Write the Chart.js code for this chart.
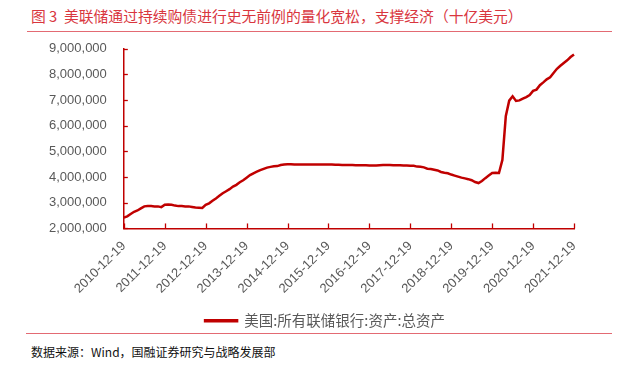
<!DOCTYPE html>
<html><head><meta charset="utf-8">
<script src="https://cdn.jsdelivr.net/npm/chart.js@4.4.0/dist/chart.umd.min.js"></script>
<style>
html,body{margin:0;padding:0;background:#fff;width:633px;height:367px;overflow:hidden;}
body{position:relative;font-family:"Noto Sans CJK SC",sans-serif;}
#title{position:absolute;left:31px;top:6px;font-size:14.8px;line-height:20px;color:#D9363E;white-space:nowrap;}
#tline{position:absolute;left:27px;top:31px;width:585px;height:0;border-top:1.5px solid #E36A73;}
#bline{position:absolute;left:26px;top:333px;width:586px;height:0;border-top:1.5px solid #E36A73;}
#src{position:absolute;left:31px;top:343px;font-size:12px;line-height:18px;color:#111;white-space:nowrap;}
#wrap{position:absolute;left:0;top:24px;width:633px;height:314px;}
</style></head>
<body>
<div id="title">图 3&nbsp; 美联储通过持续购债进行史无前例的量化宽松，支撑经济（十亿美元）</div>
<div id="tline"></div>
<div id="wrap"><canvas id="c" width="633" height="314"></canvas></div>
<div id="bline"></div>
<div id="src">数据来源：Wind，国融证券研究与战略发展部</div>
<script>
// Monthly observations (value on/near the 19th of each month), 2010-12 .. 2021-12
const seriesName = '美国:所有联储银行:资产:总资产';
const v2010 = [2420000];
const v2011 = [2470000,2560000,2650000,2700000,2780000,2860000,2870000,2870000,2860000,2860000,2830000,2920000];
const v2012 = [2930000,2920000,2890000,2870000,2870000,2860000,2860000,2840000,2820000,2810000,2800000,2920000];
const v2013 = [2980000,3080000,3170000,3270000,3370000,3450000,3530000,3630000,3700000,3800000,3880000,3980000];
const v2014 = [4080000,4150000,4210000,4270000,4320000,4370000,4400000,4420000,4430000,4470000,4490000,4500000];
const v2015 = [4500000,4490000,4490000,4490000,4490000,4490000,4490000,4490000,4490000,4490000,4490000,4490000];
const v2016 = [4490000,4480000,4480000,4470000,4470000,4470000,4470000,4460000,4460000,4460000,4460000,4450000];
const v2017 = [4450000,4450000,4460000,4470000,4470000,4470000,4460000,4460000,4460000,4450000,4450000,4440000];
const v2018 = [4440000,4410000,4400000,4380000,4330000,4320000,4290000,4260000,4200000,4170000,4150000,4100000];
const v2019 = [4060000,4020000,3980000,3950000,3920000,3880000,3810000,3770000,3850000,3960000,4060000,4160000];
const v2020 = [4170000,4160000,4670000,6370000,6980000,7150000,6970000,6990000,7060000,7120000,7200000,7360000];
const v2021 = [7410000,7580000,7690000,7810000,7890000,8060000,8220000,8340000,8450000,8550000,8680000,8780000];
const values = [].concat(v2010,v2011,v2012,v2013,v2014,v2015,v2016,v2017,v2018,v2019,v2020,v2021);
const tickLabels = ['2010-12-19','2011-12-19','2012-12-19','2013-12-19','2014-12-19','2015-12-19','2016-12-19','2017-12-19','2018-12-19','2019-12-19','2020-12-19','2021-12-19'];
const yTicks = [2000000,3000000,4000000,5000000,6000000,7000000,8000000,9000000];

// category labels: one per month starting 2010-12-19
const categories = [];
for (let i = 0; i < values.length; i++) {
  const m = 11 + i; const y = 2010 + Math.floor(m / 12); const mm = (m % 12) + 1;
  categories.push(y + '-' + String(mm).padStart(2, '0') + '-19');
}

const RED = '#C00000';
const innerTicks = {
  id: 'innerTicks',
  beforeDraw(chart) {
    // shift the legend box so it is centred under the plot like the reference
    const lg = chart.legend;
    if (lg && !lg._shifted) { lg.left += 22; lg.right += 22; lg._shifted = true; }
  },
  afterDraw(chart) {
    const ctx = chart.ctx, x = chart.scales.x, y = chart.scales.y, a = chart.chartArea;
    ctx.save(); ctx.strokeStyle = RED; ctx.lineWidth = 1.3;
    x.ticks.forEach(t => { const px = Math.round(x.getPixelForValue(t.value)) + 0.5;
      ctx.beginPath(); ctx.moveTo(px, a.bottom); ctx.lineTo(px, a.bottom - 5); ctx.stroke(); });
    y.ticks.forEach(t => { const py = Math.round(y.getPixelForValue(t.value)) + 0.5;
      ctx.beginPath(); ctx.moveTo(a.left, py); ctx.lineTo(a.left + 4, py); ctx.stroke(); });
    ctx.restore();
  }
};

new Chart(document.getElementById('c'), {
  type: 'line',
  data: { labels: categories, datasets: [{
    label: seriesName, data: values, borderColor: RED, backgroundColor: RED,
    borderWidth: 2.5, pointRadius: 0, tension: 0, fill: false }] },
  options: {
    responsive: false, animation: false, devicePixelRatio: 1,
    layout: { padding: { left: 32, right: 59, top: 8, bottom: 0 } },
    plugins: {
      tooltip: { enabled: false },
      legend: { position: 'bottom', labels: { boxWidth: 32, boxHeight: 1, color: '#595959',
        font: { size: 14.5, family: '"Noto Sans CJK SC", sans-serif' }, padding: 7 } }
    },
    scales: {
      x: {
        type: 'category',
        grid: { display: true, drawOnChartArea: false, drawTicks: false },
        border: { color: RED, width: 1.5 },
        afterBuildTicks: s => { s.ticks = s.ticks.filter(t => tickLabels.includes(categories[t.value])); },
        ticks: { autoSkip: false, maxRotation: 45, minRotation: 45, color: '#595959', padding: 10,
          font: { size: 13, family: '"Liberation Sans", Arial, sans-serif' } }
      },
      y: {
        min: 2000000, max: 9000000,
        afterBuildTicks: s => { s.ticks = yTicks.map(v => ({ value: v })); },
        grid: { display: true, drawOnChartArea: false, drawTicks: false },
        border: { color: RED, width: 1.5 },
        ticks: { color: '#595959', padding: 17,
          font: { size: 13, family: '"Liberation Sans", Arial, sans-serif' },
          callback: v => v.toLocaleString('en-US') }
      }
    }
  },
  plugins: [innerTicks]
});
</script>
</body></html>
